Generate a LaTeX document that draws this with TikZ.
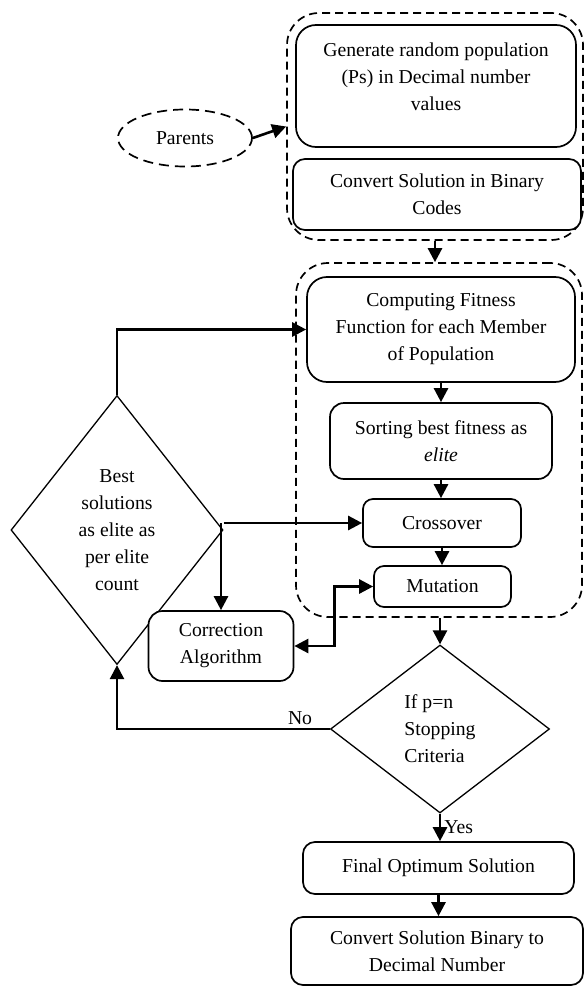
\documentclass[tikz,border=0pt]{standalone}
\usepackage{fontspec}
\setmainfont{Liberation Serif}
\usetikzlibrary{arrows.meta,shapes.geometric}

\begin{document}
\begin{tikzpicture}[x=1pt,y=-1pt,
  font=\fontsize{19.7}{27}\selectfont,
  box/.style={draw, line width=1.7pt, rounded corners=14pt, fill=white, align=center, inner sep=0pt},
  grp/.style={draw, line width=1.7pt, dash pattern=on 8pt off 5pt, rounded corners=32pt, inner sep=0pt},
  dia/.style={draw, diamond, line width=1.3pt, inner sep=0pt, align=center},
  arr/.style={-{Triangle[length=14pt,width=14pt]}, line width=2.6pt},
  arrb/.style={{Triangle[length=14pt,width=14pt]}-{Triangle[length=14pt,width=14pt]}, line width=2.6pt}]
  \useasboundingbox (0,0) rectangle (584,987);

  \node[grp, minimum width=296, minimum height=227] (grp1) at (435,126.5) {};
  \node[grp, minimum width=286, minimum height=354] (grp2) at (439,440) {};

  \node[box, rounded corners=20pt, minimum width=280, minimum height=122, text depth=18pt] (gen) at (436,86)
    {Generate random population\\(Ps) in Decimal number\\values};
  \node[box, rounded corners=12pt, minimum width=288, minimum height=71] (conv1) at (437,194.5)
    {Convert Solution in Binary\\Codes};
  \node[draw, ellipse, line width=1.7pt, dash pattern=on 10pt off 6pt, minimum width=134, minimum height=57] (par) at (185,138) {Parents};

  \node[box, rounded corners=20pt, minimum width=268, minimum height=105] (comp) at (441,329.5)
    {Computing Fitness\\Function for each Member\\of Population};
  \node[box, minimum width=222, minimum height=76] (sort) at (441,441)
    {Sorting best fitness as\\\textit{elite}};
  \node[box, rounded corners=10pt, minimum width=158, minimum height=48] (cross) at (442,523) {Crossover};
  \node[box, rounded corners=10pt, minimum width=137, minimum height=41] (mut) at (442.5,586.5) {Mutation};

  \node[dia, aspect=0.8, minimum width=212, minimum height=269] (elite) at (117,530)
    {Best\\solutions\\as elite as\\per elite\\count};
  \node[box, minimum width=145, minimum height=70] (corr) at (221,646) {Correction\\Algorithm};

  \node[dia, align=left, minimum width=219, minimum height=168] (stop) at (440,729)
    {If p=n\\Stopping\\Criteria};
  \node[box, rounded corners=12pt, minimum width=271, minimum height=52] (final) at (438.5,868)
    {Final Optimum Solution};
  \node[box, rounded corners=12pt, minimum width=292, minimum height=68] (conv2) at (437,951)
    {Convert Solution Binary to\\Decimal Number};

  \draw[arr] (par.east) -- (grp1.west);
  \draw[arr] (grp1.south) -- (grp1.south |- grp2.north);
  \draw[arr] (comp.south) -- (sort.north);
  \draw[arr] (sort.south) -- (sort.south |- cross.north);
  \draw[arr] (cross.south) -- (cross.south |- mut.north);
  \draw[arr] (stop.north |- grp2.south) -- (stop.north);
  \draw[arr] (stop.south) -- (stop.south |- final.north) node[midway, right, inner sep=3pt] {Yes};
  \draw[arr] (final.south) -- (final.south |- conv2.north);
  \draw[arr] (stop.west) -| (elite.south) node[pos=0.07, above] {No};
  \draw[arr] (elite.north) |- (comp.west);
  \draw[arr] (elite.east |- cross.west) -- (cross.west);
  \draw[arr] (corr.north |- cross.west) -- (corr.north);
  \draw[arrb] (corr.east) -- ++(40,0) |- (mut.west);
\end{tikzpicture}
\end{document}
